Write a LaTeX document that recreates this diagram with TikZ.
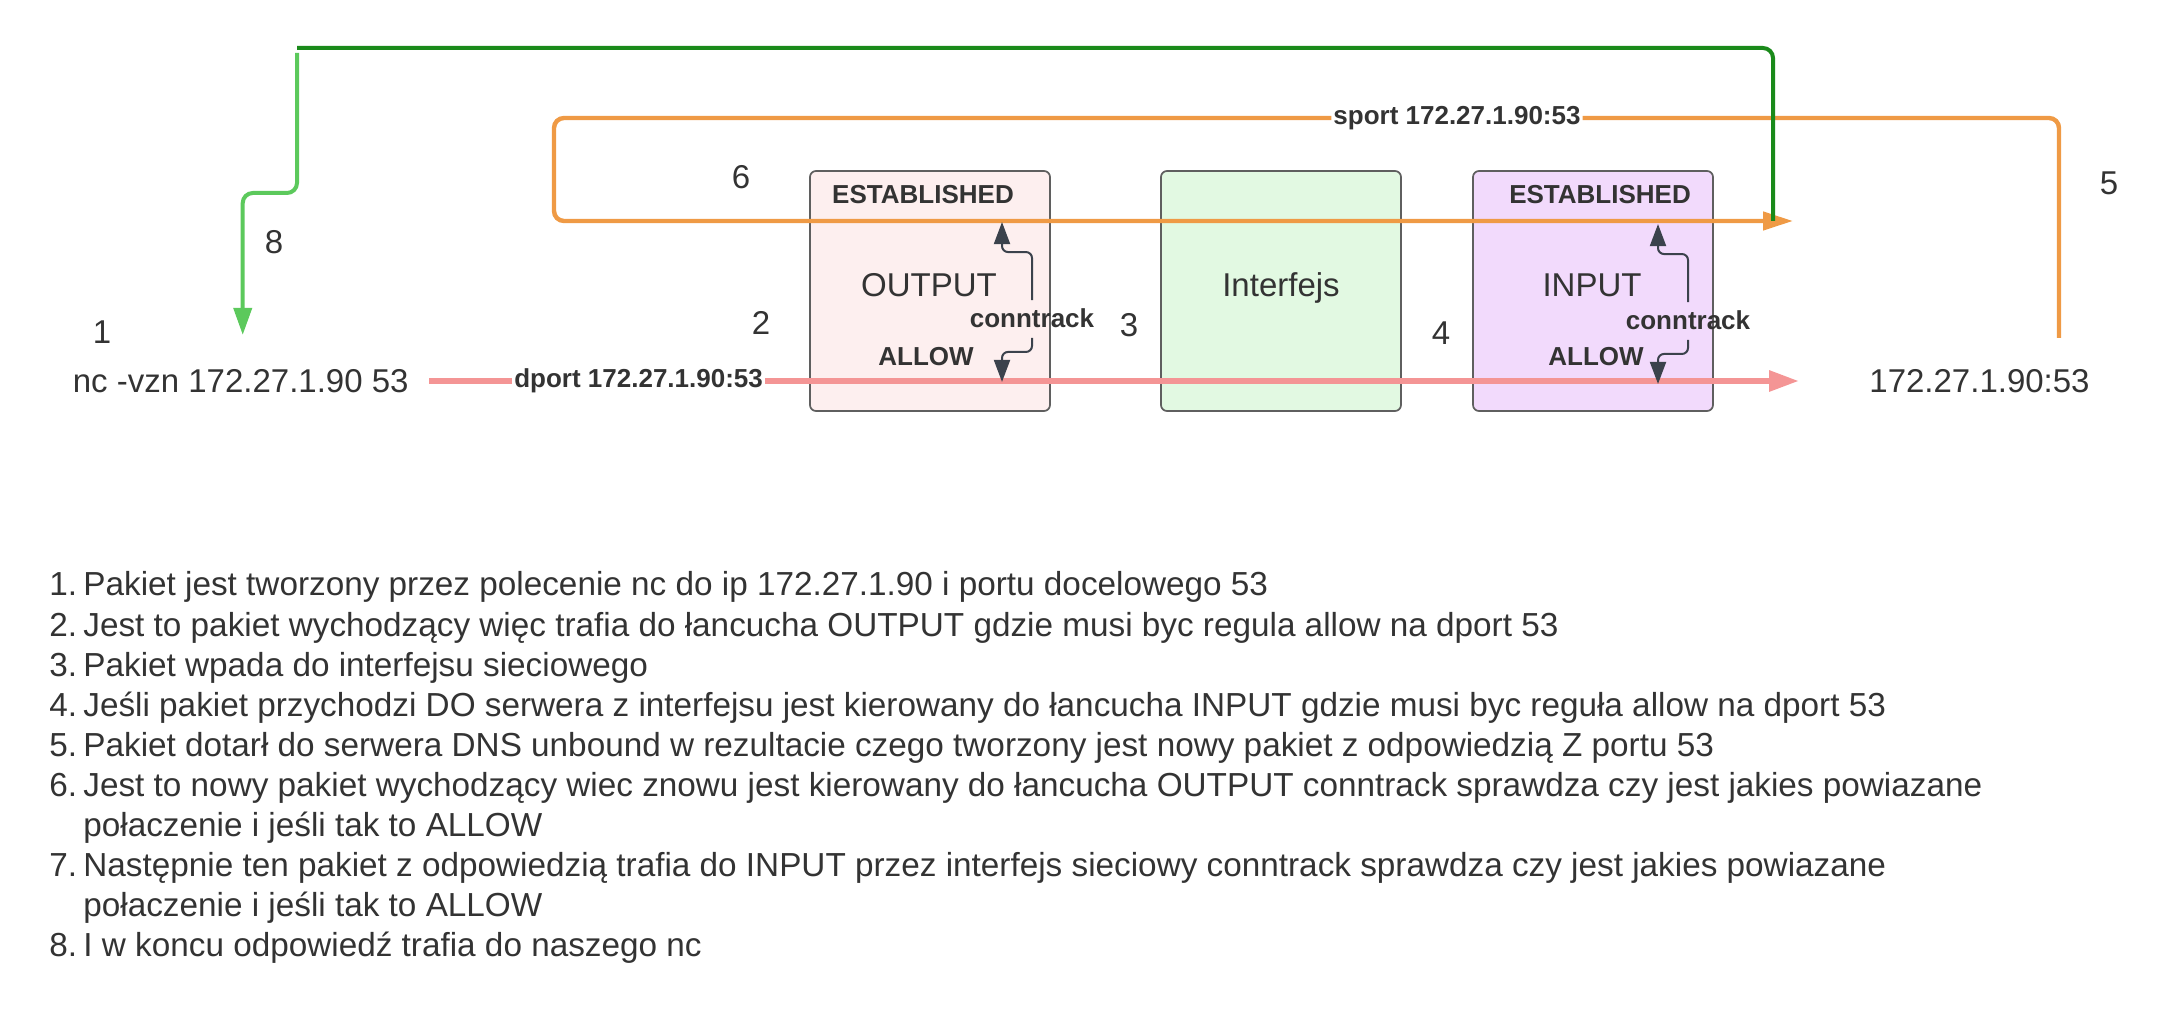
\documentclass[tikz,border=0pt]{standalone}
\usepackage{fontspec}
\setmainfont{Liberation Sans}
\usepackage{tikz}
\usetikzlibrary{calc,arrows.meta}

\definecolor{txtgray}{HTML}{333333}
\definecolor{boxline}{HTML}{5F5F5F}
\definecolor{outfill}{HTML}{FDEFEF}
\definecolor{iffill}{HTML}{E2F9E2}
\definecolor{infill}{HTML}{F2DAFC}
\definecolor{reqline}{HTML}{F49595}
\definecolor{respline}{HTML}{EF9A45}
\definecolor{darkgreen}{HTML}{1A8A1A}
\definecolor{lightgreen}{HTML}{5CC95C}
\definecolor{ctline}{HTML}{3B424C}

\tikzset{
  chainbox/.style={draw=boxline, line width=0.85pt, rounded corners=3pt,
    minimum width=120pt, minimum height=120pt, inner sep=0pt},
  big/.style={font=\fontsize{16.5}{19}\selectfont, text=txtgray, inner sep=0pt},
  listtext/.style={font=\fontsize{16.65}{19}\selectfont, text=txtgray, inner sep=0pt},
  tag/.style={font=\bfseries\fontsize{13}{15}\selectfont, text=txtgray, inner sep=0pt},
  ctarrow/.style={draw=ctline, line width=1pt, rounded corners=3pt,
    -{Triangle[length=11pt,width=8pt]}},
}

\begin{document}
\begin{tikzpicture}[x=0.5pt,y=-0.5pt]
  \useasboundingbox (0,0) rectangle (2180,1010);

  % chains and interface
  \node[chainbox, fill=outfill] (output) at (930,291) {};
  \node[chainbox, fill=iffill] (iface) at (1281,291) {};
  \node[chainbox, fill=infill] (input) at (1593,291) {};

  \node[big, anchor=base] (outname) at (929,297) {OUTPUT};
  \node[big, anchor=base] (ifname) at (1281,297) {Interfejs};
  \node[big, anchor=base] (inname) at (1592,297) {INPUT};
  \node[tag] (estout) at (923,195) {ESTABLISHED};
  \node[tag] (estin) at (1600,195) {ESTABLISHED};
  \node[tag] (allowout) at (926,357) {ALLOW};
  \node[tag] (allowin) at (1596,357) {ALLOW};

  % end points
  \node[big, anchor=east] (nc) at (409,381) {nc -vzn 172.27.1.90 53};
  \node[big, anchor=west] (dst) at (1869,381) {172.27.1.90:53};
  \coordinate (srv) at (2059,338);
  \coordinate (ret) at (1793,221);
  \coordinate (reply) at ($(nc.north)+(2,-34)$);

  % step numbers
  \foreach \s/\px/\py in {1/102/332, 2/761/323, 3/1129/325, 4/1441/333, 5/2109/183, 6/741/177, 8/274/242}
    \node[big] (step\s) at (\px,\py) {\s};

  % request
  \draw[reqline, line width=3pt, -{Triangle[length=15pt,width=10pt]}]
    ([xshift=10pt]nc.east) -- node[tag, fill=white, inner xsep=1pt, inner ysep=2pt, pos=0.153] (dport) {dport 172.27.1.90:53} ([xshift=-35pt]dst.west);

  % response
  \draw[respline, line width=2.2pt, rounded corners=5pt, -{Triangle[length=15pt,width=9pt]}]
    (srv) |- node[tag, fill=white, inner xsep=1pt, inner ysep=2pt, pos=0.7] (sport) {sport 172.27.1.90:53} (554,118) |- (ret);
  \draw[darkgreen, line width=2pt, rounded corners=5pt] ($(ret)+(-20,0)$) |- (297,48);
  \draw[lightgreen, line width=2pt, rounded corners=5pt, -{Triangle[length=13.5pt,width=9pt]}]
    (297,53) -- (297,193) -| (reply);

  % conntrack
  \node[tag] (ctout) at (1032,318) {conntrack};
  \node[tag] (ctin) at (1688,320) {conntrack};
  \foreach \ct in {ctout,ctin}{
    \draw[ctarrow] ([yshift=4pt]\ct.north) |- ++(-30,-48) -- ++(0,-30);
    \draw[ctarrow] ([yshift=-5pt]\ct.south) |- ++(-30,14) -- ++(0,30);
  }

  % description
  \foreach \k/\num/\txt in {
    0/1./Pakiet jest tworzony przez polecenie nc do ip 172.27.1.90 i portu docelowego 53,
    1/2./Jest to pakiet wychodzący więc trafia do łancucha OUTPUT gdzie musi byc regula allow na dport 53,
    2/3./Pakiet wpada do interfejsu sieciowego,
    3/4./Jeśli pakiet przychodzi DO serwera z interfejsu jest kierowany do łancucha INPUT gdzie musi byc reguła allow na dport 53,
    4/5./Pakiet dotarł do serwera DNS unbound w rezultacie czego tworzony jest nowy pakiet z odpowiedzią Z portu 53,
    5/6./Jest to nowy pakiet wychodzący wiec znowu jest kierowany do łancucha OUTPUT conntrack sprawdza czy jest jakies powiazane,
    6/{}/połaczenie i jeśli tak to ALLOW,
    7/7./Następnie ten pakiet z odpowiedzią trafia do INPUT przez interfejs sieciowy conntrack sprawdza czy jest jakies powiazane,
    8/{}/połaczenie i jeśli tak to ALLOW,
    9/8./I w koncu odpowiedź trafia do naszego nc}
  {
    \node[listtext, anchor=base west] (num\k) at (49,596+40*\k) {\num};
    \node[listtext, anchor=base west] (item\k) at (83,596+40*\k) {\txt};
  }
\end{tikzpicture}
\end{document}
